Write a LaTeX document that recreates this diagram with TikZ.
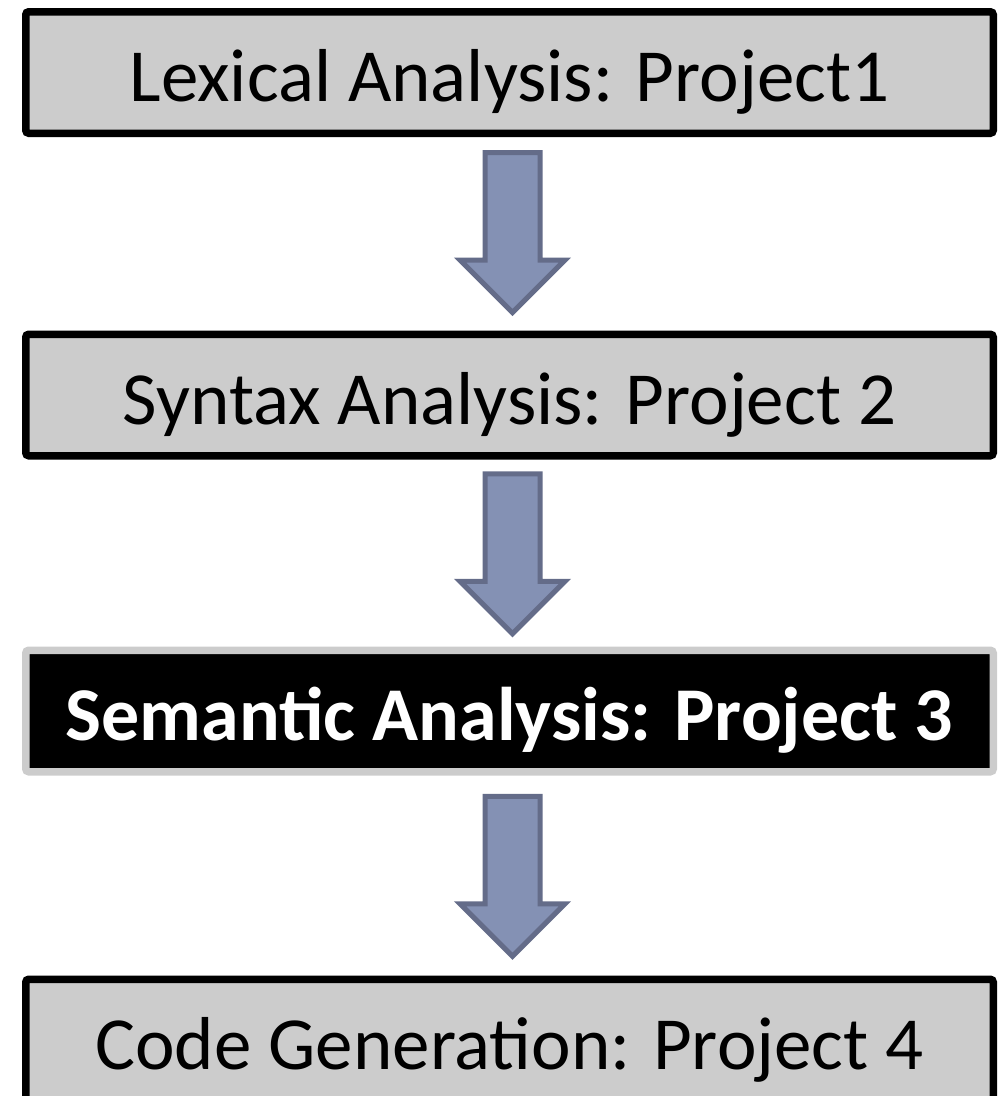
\documentclass[tikz,border=0pt]{standalone}
\usepackage{fontspec}
\setmainfont{Carlito}
\usepackage{tikz}
\usetikzlibrary{shapes}
\usetikzlibrary{shapes.arrows}
\usetikzlibrary{positioning}
\usetikzlibrary{calc}
\definecolor{boxgray}{RGB}{204,204,204}
\definecolor{flowfill}{RGB}{132,145,180}
\definecolor{flowline}{RGB}{100,108,137}
\tikzset{x=1pt, y=-1pt, % one unit is one pixel of the page
    every node/.style={inner sep=0pt}}

\begin{document}
\begin{tikzpicture}[
            phase/.style={rectangle, draw=black, line width=7.5pt, fill=boxgray, rounded corners=3pt,
                minimum width=967.5pt, minimum height=121.5pt, text height=58pt, text depth=0pt,
                font=\fontsize{75}{80}\selectfont},
            current/.style={phase, draw=boxgray, fill=black, text=white, font=\fontsize{76}{80}\selectfont\bfseries},
            flow/.style={single arrow, draw=flowline, fill=flowfill, line width=5pt, shape border rotate=270,
                inner xsep=25pt, inner ysep=0pt, minimum height=160pt, single arrow head extend=25pt,
                single arrow tip angle=90}
        ]

        \useasboundingbox (0,0) rectangle (1003,1096);
        \clip (0,0) rectangle (1003,1096);

        % Compiler phases
        \node[phase] (lex) at (509.5,72.5) {Lexical Analysis: Project1};
        \node[phase] (syn) at (509.5,395) {Syntax Analysis: Project 2};
        \node[current] (sem) at (509.5,711) {Semantic Analysis: Project 3};
        \node[phase] (gen) at (509.5,1040) {Code Generation: Project 4};

        % Block arrows between the phases
        \node[flow] (a1) at ($(lex.south)!0.5!(syn.north)+(3,-15)$) {};
        \node[flow] (a2) at ($(syn.south)!0.5!(sem.north)+(3,-13)$) {};
        \node[flow] (a3) at ($(sem.south)!0.5!(gen.north)+(3,-13)$) {};

    \end{tikzpicture}
\end{document}
